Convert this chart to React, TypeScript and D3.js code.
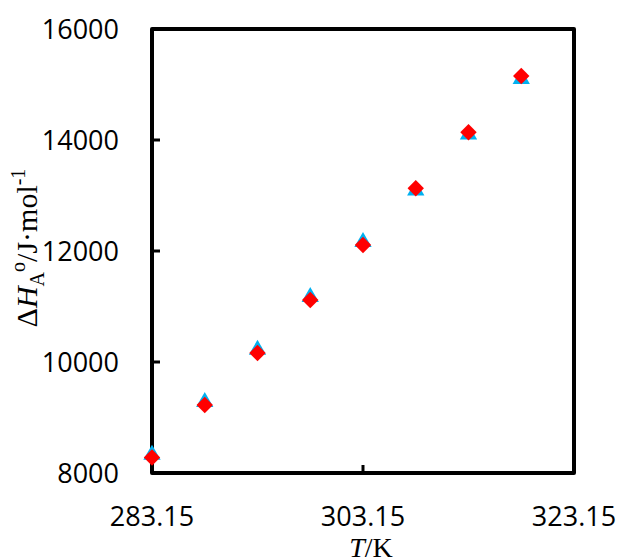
import React from 'react';
import * as d3 from 'd3';

const temps = [283.15, 288.15, 293.15, 298.15, 303.15, 308.15, 313.15, 318.15];
const dhTriangle = [8330, 9280, 10220, 11170, 12160, 13090, 14100, 15100];
const dhDiamond = [8280, 9225, 10162, 11117, 12108, 13130, 14139, 15153];
const xTicks = [283.15, 303.15, 323.15];
const yTicks = [8000, 10000, 12000, 14000, 16000];

const App = () => {
    const width = 621,
        height = 559,
        margin = { top: 29, right: 47, bottom: 86, left: 152 };

    const x = d3.scaleLinear()
        .domain([283.15, 323.15])
        .range([margin.left, width - margin.right]);
    const y = d3.scaleLinear()
        .domain([8000, 16000])
        .range([height - margin.bottom, margin.top]);

    const tri = d3.symbol().type(d3.symbolTriangle).size(130)();
    const dia = d3.symbol().type(d3.symbolSquare).size(135)();

    const x0 = x.range()[0], x1 = x.range()[1];
    const y0 = y.range()[0], y1 = y.range()[1];
    const tickLen = 8;

    return (
        <svg width={width} height={height}
            style={{ position: 'absolute', left: 0, top: 0 }}>
            <rect x={0} y={0} width={width} height={height} fill="#fff" />
            {/* inner ticks */}
            {yTicks.slice(1, -1).map(t => (
                <line key={'yt' + t} x1={x0} x2={x0 + tickLen} y1={y(t)} y2={y(t)} stroke="#000" strokeWidth={3} />
            ))}
            {xTicks.slice(1, -1).map(t => (
                <line key={'xt' + t} x1={x(t)} x2={x(t)} y1={y0} y2={y0 - tickLen} stroke="#000" strokeWidth={3} />
            ))}
            <rect x={x0} y={y1} width={x1 - x0} height={y0 - y1}
                fill="none" stroke="#000" strokeWidth={4} strokeLinejoin="round" />
            {/* tick labels */}
            {yTicks.map(t => (
                <text key={'yl' + t} x={x0 - 33} y={y(t)} dy="0.36em" textAnchor="end"
                    fontFamily="'Open Sans'" fontSize={27} fill="#000">{t}</text>
            ))}
            {xTicks.map(t => (
                <text key={'xl' + t} x={x(t)} y={y0 + 43} dy="0.36em" textAnchor="middle"
                    fontFamily="'Open Sans'" fontSize={27} fill="#000">{t.toFixed(2)}</text>
            ))}
            {/* axis titles */}
            <text x={371} y={557} textAnchor="middle"
                fontFamily="'Liberation Serif'" fontSize={28} fill="#000">
                <tspan fontStyle="italic">T</tspan>/K
            </text>
            <text transform={`translate(37, ${248}) rotate(-90)`} textAnchor="middle"
                fontFamily="'Liberation Serif'" fontSize={30} fill="#000">
                Δ<tspan fontStyle="italic">H</tspan>
                <tspan fontSize={20} dy={7}>A</tspan>
                <tspan fontSize={20} dy={-19}>o</tspan>
                <tspan dy={12}>/J·mol</tspan>
                <tspan fontSize={20} dy={-12}>-1</tspan>
            </text>
            {/* series */}
            {temps.map((t, i) => (
                <path key={'tri' + i} d={tri}
                    transform={`translate(${x(t)},${y(dhTriangle[i])})`} fill="#00B0F0" />
            ))}
            {temps.map((t, i) => (
                <path key={'dia' + i} d={dia}
                    transform={`translate(${x(t)},${y(dhDiamond[i])}) rotate(45)`} fill="#FF0000" />
            ))}
        </svg>
    );
};

export default App;
